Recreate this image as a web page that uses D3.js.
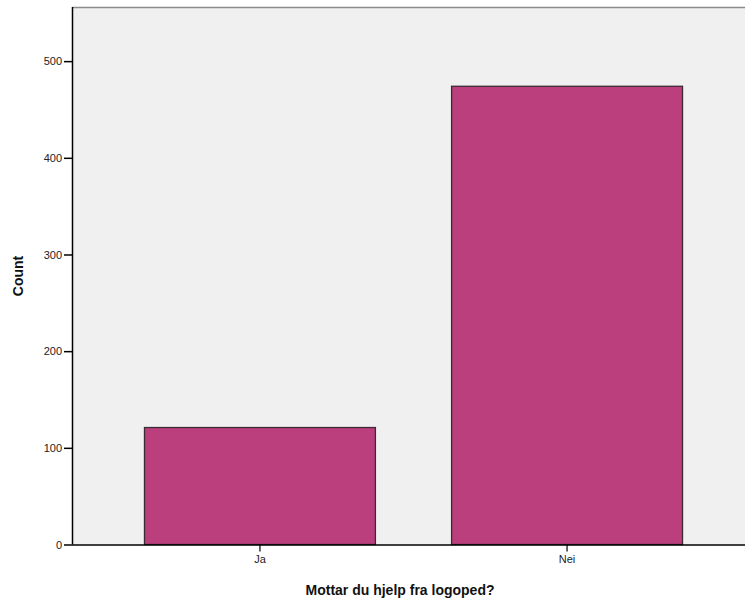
<!DOCTYPE html>
<html>
<head>
<meta charset="utf-8">
<script src="https://cdn.jsdelivr.net/npm/d3@7"></script>
<style>
  body { margin: 0; background: #fff; }
  svg { display: block; }
  text { font-family: Arial, "Liberation Sans", sans-serif; }
</style>
</head>
<body>
<svg id="chart" width="745" height="605"></svg>
<script>
// data
const categories = ["Ja", "Nei"]
const counts = [121, 474]
const yTicks = [0, 100, 200, 300, 400, 500]
const xTitle = "Mottar du hjelp fra logoped?"
const yTitle = "Count"

const svg = d3.select("#chart")
const plotL = 72, plotT = 7, plotB = 544.5, plotR = 755

let x = d3.scaleBand().domain(categories).range([plotL, plotR])
	.paddingInner(0.248).paddingOuter(0.236)
let y = d3.scaleLinear().domain([0, 556]).range([plotB, plotT])

// plot background
svg.append("rect").attr("x", plotL).attr("y", plotT)
	.attr("width", plotR - plotL).attr("height", plotB - plotT)
	.style("fill", "#f0f0f0")
svg.append("line").attr("x1", plotL).attr("x2", plotR).attr("y1", plotT + 0.5).attr("y2", plotT + 0.5)
	.style("stroke", "#8c8c8c").style("stroke-width", 1.5)

// bars
svg.selectAll(".bar").data(categories).enter().append("rect").classed("bar", true)
	.attr("x", d => x(d))
	.attr("y", (d, i) => y(counts[i]))
	.attr("width", x.bandwidth())
	.attr("height", (d, i) => y(0) - y(counts[i]))
	.style("fill", "#bb3e7d")
	.style("stroke", "#3a2a33")
	.style("stroke-width", 1.3)

// y axis
let yAxis = svg.append("g").attr("transform", `translate(${plotL},0)`)
	.call(d3.axisLeft(y).tickValues(yTicks).tickSize(8).tickPadding(2))
yAxis.select(".domain").attr("d", `M0.5,${plotT}V${plotB}`).style("stroke", "#000").style("stroke-width", 1.5)
yAxis.selectAll(".tick line").style("stroke", "#000").style("stroke-width", 1.5)
yAxis.selectAll(".tick text").style("font-size", "11px").style("fill", "#222")

// x axis
let xAxis = svg.append("g").attr("transform", `translate(0,${plotB})`)
	.call(d3.axisBottom(x).tickSize(7).tickPadding(4))
xAxis.select(".domain").attr("d", `M${plotL},0.5H${plotR}`).style("stroke", "#000").style("stroke-width", 1.5)
xAxis.selectAll(".tick line").style("stroke", "#000").style("stroke-width", 1.2)
xAxis.selectAll(".tick text").style("font-size", "11px").style("fill", "#222")

// titles
svg.append("text").attr("x", 400).attr("y", 595)
	.attr("text-anchor", "middle")
	.style("font-size", "14px").style("font-weight", "bold").style("fill", "#111")
	.text(xTitle)
svg.append("text").attr("transform", "translate(23,276) rotate(-90)")
	.attr("text-anchor", "middle")
	.style("font-size", "14px").style("font-weight", "bold").style("fill", "#111")
	.text(yTitle)
</script>
</body>
</html>
